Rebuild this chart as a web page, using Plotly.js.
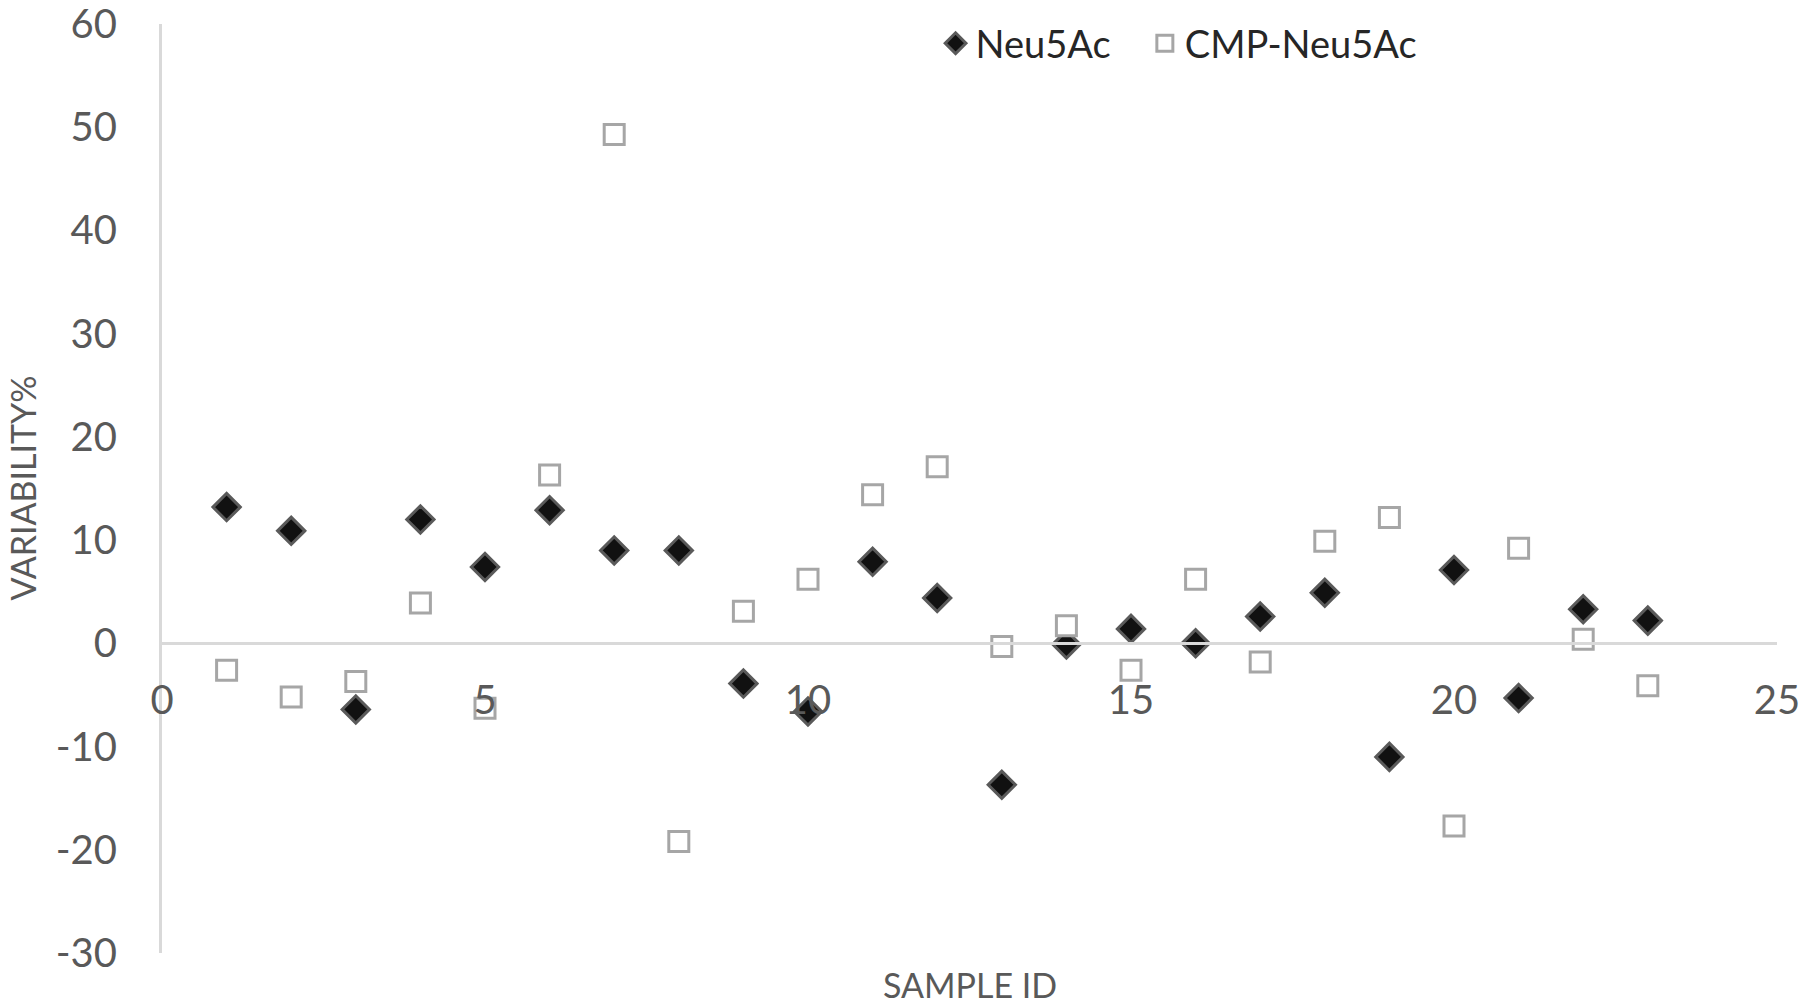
<!DOCTYPE html>
<html>
<head>
<meta charset="utf-8">
<script src="https://cdn.plot.ly/plotly-3.0.1.min.js"></script>
<style>
  html, body { margin: 0; padding: 0; background: #fff; }
  #chart { width: 1800px; height: 1006px; }
</style>
</head>
<body>
<div id="chart"></div>
<script>
// sample ids and variability (%)
var sampleIds = [1, 2, 3, 4, 5, 6, 7, 8, 9, 10, 11, 12, 13, 14, 15, 16, 17, 18, 19, 20, 21, 22, 23];
var neu5ac = [13.2, 10.9, -6.4, 12.0, 7.4, 12.9, 9.0, 9.0, -3.9, -6.6, 7.9, 4.4, -13.7, -0.1, 1.4, 0.0, 2.6, 4.9, -11.0, 7.1, -5.3, 3.3, 2.2];
var cmpNeu5ac = [-2.6, -5.2, -3.7, 3.9, -6.3, 16.3, 49.3, -19.2, 3.1, 6.2, 14.4, 17.1, -0.3, 1.7, -2.6, 6.2, -1.8, 9.9, 12.2, -17.7, 9.2, 0.4, -4.1];
var xTicks = [0, 5, 10, 15, 20, 25];
var yTicks = [-30, -20, -10, 0, 10, 20, 30, 40, 50, 60];

var grey = '#595959';
var fontName = 'Lato, "Open Sans", sans-serif';

var traces = [
  {
    x: sampleIds,
    y: neu5ac,
    // trailing nbsp widens the gap to the next legend entry
    name: 'Neu5Ac\u00a0\u00a0\u00a0',
    type: 'scatter',
    mode: 'markers',
    marker: { symbol: 'diamond', size: 21, color: '#111111', line: { color: '#5a5a5a', width: 3 } }
  },
  {
    x: sampleIds,
    y: cmpNeu5ac,
    name: 'CMP-Neu5Ac',
    type: 'scatter',
    mode: 'markers',
    marker: { symbol: 'square', size: 20, color: '#ffffff', line: { color: '#a6a6a6', width: 3 } }
  }
];

var layout = {
  width: 1800,
  height: 1006,
  margin: { l: 162, r: 23, t: 20, b: 53 },
  paper_bgcolor: '#ffffff',
  plot_bgcolor: '#ffffff',
  font: { family: fontName, color: grey },
  showlegend: true,
  legend: {
    orientation: 'h',
    x: 0.479,
    xanchor: 'left',
    y: 0.979,
    yanchor: 'middle',
    font: { size: 38, color: '#262626', family: fontName },
    bgcolor: 'rgba(0,0,0,0)'
  },
  xaxis: {
    range: [0, 25],
    tickvals: xTicks,
    ticktext: xTicks.map(String),
    showgrid: false,
    zeroline: false,
    showline: true,
    linecolor: '#d9d9d9',
    linewidth: 3,
    anchor: 'free',
    position: (0 - (-30)) / (60 - (-30)),
    ticks: '',
    ticklabelstandoff: 21,
    ticklabeloverflow: 'allow',
    tickfont: { size: 40, color: grey }
  },
  yaxis: {
    range: [-30, 60],
    tickvals: yTicks,
    ticktext: yTicks.map(String),
    showgrid: false,
    zeroline: false,
    showline: true,
    linecolor: '#d9d9d9',
    linewidth: 3,
    ticks: '',
    ticklabelstandoff: 34,
    ticklabeloverflow: 'allow',
    tickfont: { size: 40, color: grey }
  },
  annotations: [
    {
      text: 'SAMPLE ID', xref: 'paper', yref: 'paper', x: 0.5, y: 0,
      xanchor: 'center', yanchor: 'middle', yshift: -31, showarrow: false,
      font: { size: 34, color: grey, family: fontName }
    },
    {
      text: 'VARIABILITY%', xref: 'paper', yref: 'paper', x: 0, y: 0.5,
      xanchor: 'center', yanchor: 'middle', xshift: -140, textangle: -90, showarrow: false,
      font: { size: 34, color: grey, family: fontName }
    }
  ]
};

Plotly.newPlot('chart', traces, layout, { staticPlot: true });
</script>
</body>
</html>
